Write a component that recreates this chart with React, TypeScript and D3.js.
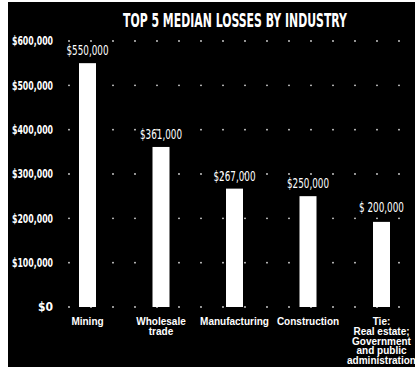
import React from "react";
import * as d3 from "d3";

const categories = ["Mining", "Wholesale trade", "Manufacturing", "Construction", "Tie"];
const categoryLines = [
  ["Mining"],
  ["Wholesale", "trade"],
  ["Manufacturing"],
  ["Construction"],
  ["Tie:", "Real estate;", "Government", "and public", "administration"],
];
const values = [550000, 361000, 267000, 250000, 192000];
const valueLabels = ["$550,000", "$361,000", "$267,000", "$250,000", "$ 200,000"];
const yTicks = [0, 100000, 200000, 300000, 400000, 500000, 600000];
const yTickLabels = ["$0", "$100,000", "$200,000", "$300,000", "$400,000", "$500,000", "$600,000"];
const dotColumns = d3.range(16);

const W = 415;
const H = 371;
const condensed = "'Liberation Sans Narrow', 'DejaVu Sans Condensed', 'Arial Narrow', sans-serif";
const sans = "'Liberation Sans', Arial, sans-serif";

export default function App() {
  const y = d3.scaleLinear().domain([0, 600000]).range([307, 41]);
  const x = d3.scalePoint<string>().domain(categories).range([87.5, 381.5]);
  const dotX = d3.scaleLinear().domain([0, 15]).range([69, 399]);
  const barW = 17;

  return (
    <svg width={W} height={H} style={{ position: "absolute", left: 0, top: 0 }}>
      <rect x={0} y={0} width={W} height={H} fill="#ffffff" />
      <rect x={8} y={2} width={W - 8} height={365} fill="#000000" />
      <text
        x={235}
        y={27}
        textAnchor="middle"
        fill="#fff"
        fontFamily={condensed}
        fontWeight="bold"
        fontSize={19}
        textLength={224}
        lengthAdjust="spacingAndGlyphs"
      >
        TOP 5 MEDIAN LOSSES BY INDUSTRY
      </text>
      {yTicks.map((t, i) => (
        <g key={t}>
          <text
            x={53}
            y={y(t)}
            dy="0.35em"
            textAnchor="end"
            fill="#fff"
            fontFamily={condensed}
            fontWeight="bold"
            fontSize={12}
            textLength={t === 0 ? 15 : 41}
            lengthAdjust="spacingAndGlyphs"
          >
            {yTickLabels[i]}
          </text>
          {dotColumns.map((c) => (
            <circle key={c} cx={dotX(c)} cy={y(t)} r={0.9} fill="#d8d8d8" />
          ))}
        </g>
      ))}
      {categories.map((c, i) => {
        const cx = x(c) as number;
        return (
          <g key={c}>
            <rect x={cx - barW / 2} y={y(values[i])} width={barW} height={y(0) - y(values[i])} fill="#fff" />
            <text
              x={cx}
              y={y(values[i]) - (i === 4 ? 10 : 8)}
              textAnchor="middle"
              fill="#fff"
              fontFamily={condensed}
              fontSize={14}
              textLength={i === 4 ? 45 : 42}
              lengthAdjust="spacingAndGlyphs"
            >
              {valueLabels[i]}
            </text>
            {categoryLines[i].map((line, j) => (
              <text
                key={j}
                x={cx}
                y={325 + j * 9.8}
                textAnchor="middle"
                fill="#fff"
                fontFamily={sans}
                fontWeight="bold"
                fontSize={10}
              >
                {line}
              </text>
            ))}
          </g>
        );
      })}
    </svg>
  );
}
